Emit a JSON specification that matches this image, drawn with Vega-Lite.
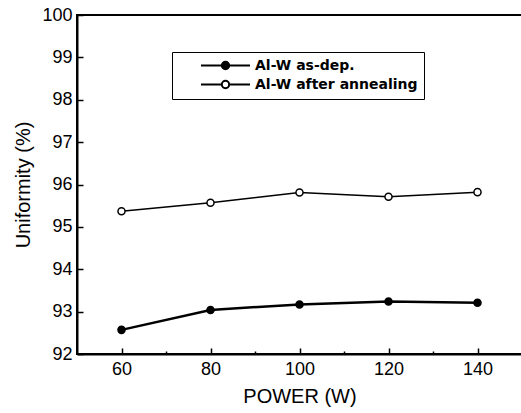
{
  "$schema": "https://vega.github.io/schema/vega-lite/v6.json",
  "width": 445,
  "height": 339,
  "autosize": {"type": "none"},
  "padding": {"left": 77, "top": 15, "right": 0, "bottom": 59},
  "background": "white",
  "config": {
    "view": {"stroke": "black", "strokeWidth": 2},
    "font": "Liberation Sans",
    "axis": {
      "labelFont": "Liberation Sans",
      "titleFont": "Liberation Sans",
      "labelColor": "black",
      "titleColor": "black",
      "domainColor": "black",
      "tickColor": "black",
      "labelFontSize": 18,
      "titleFontSize": 20,
      "titleFontWeight": "normal",
      "grid": false,
      "domainWidth": 2,
      "tickWidth": 1.5
    }
  },
  "data": {
    "values": [
      {"power": 60, "uniformity": 92.57, "series": "Al-W as-dep."},
      {"power": 80, "uniformity": 93.04, "series": "Al-W as-dep."},
      {"power": 100, "uniformity": 93.17, "series": "Al-W as-dep."},
      {"power": 120, "uniformity": 93.24, "series": "Al-W as-dep."},
      {"power": 140, "uniformity": 93.21, "series": "Al-W as-dep."},
      {"power": 60, "uniformity": 95.37, "series": "Al-W after annealing"},
      {"power": 80, "uniformity": 95.57, "series": "Al-W after annealing"},
      {"power": 100, "uniformity": 95.81, "series": "Al-W after annealing"},
      {"power": 120, "uniformity": 95.71, "series": "Al-W after annealing"},
      {"power": 140, "uniformity": 95.82, "series": "Al-W after annealing"}
    ]
  },
  "layer": [
    {
      "transform": [{"filter": "datum.series === 'Al-W as-dep.'"}],
      "mark": {"type": "line", "color": "black", "strokeWidth": 2.5},
      "encoding": {
        "x": {
          "field": "power", "type": "quantitative",
          "scale": {"domain": [50, 150], "nice": false, "zero": false},
          "axis": {
            "title": "POWER (W)",
            "values": [60, 70, 80, 90, 100, 110, 120, 130, 140, 150],
            "labelExpr": "datum.value % 20 === 0 ? format(datum.value, 'd') : ''",
            "tickSize": {"condition": {"test": "datum.value % 20 !== 0", "value": -3}, "value": -6},
            "labelPadding": 12,
            "titlePadding": 8
          }
        },
        "y": {
          "field": "uniformity", "type": "quantitative",
          "scale": {"domain": [92, 100], "nice": false, "zero": false},
          "axis": {
            "title": "Uniformity (%)",
            "values": [92, 92.5, 93, 93.5, 94, 94.5, 95, 95.5, 96, 96.5, 97, 97.5, 98, 98.5, 99, 99.5, 100],
            "labelExpr": "datum.value % 1 === 0 ? format(datum.value, 'd') : ''",
            "tickSize": {"condition": {"test": "datum.value % 1 !== 0", "value": -3}, "value": -6},
            "labelPadding": 11,
            "titlePadding": 8
          }
        }
      }
    },
    {
      "transform": [{"filter": "datum.series === 'Al-W after annealing'"}],
      "mark": {"type": "line", "color": "black", "strokeWidth": 1.5},
      "encoding": {
        "x": {"field": "power", "type": "quantitative"},
        "y": {"field": "uniformity", "type": "quantitative"}
      }
    },
    {
      "mark": {"type": "point", "shape": "circle", "stroke": "black", "strokeWidth": 1.5, "opacity": 1, "size": 50},
      "encoding": {
        "x": {"field": "power", "type": "quantitative"},
        "y": {"field": "uniformity", "type": "quantitative"},
        "fill": {
          "field": "series", "type": "nominal",
          "scale": {"domain": ["Al-W as-dep.", "Al-W after annealing"], "range": ["black", "white"]},
          "legend": {
            "title": null,
            "orient": "none",
            "legendX": 95,
            "legendY": 37,
            "strokeColor": "black",
            "fillColor": "white",
            "padding": 6,
            "symbolType": "M-4,0H-0.6M0.6,0H4M-0.6,0A0.6,0.6 0 1,0 0.6,0A0.6,0.6 0 1,0 -0.6,0Z",
            "symbolSize": 150,
            "symbolStrokeColor": "black",
            "symbolStrokeWidth": 2,
            "symbolOffset": 40,
            "labelFont": "DejaVu Sans",
            "labelFontWeight": "bold",
            "labelFontSize": 14,
            "labelColor": "black",
            "labelOffset": 22,
            "labelLimit": 400,
            "rowPadding": 2,
            "labelExpr": "datum.label + '\u00a0\u00a0\u00a0\u00a0\u00a0\u00a0\u00a0'"
          }
        }
      }
    }
  ]
}
